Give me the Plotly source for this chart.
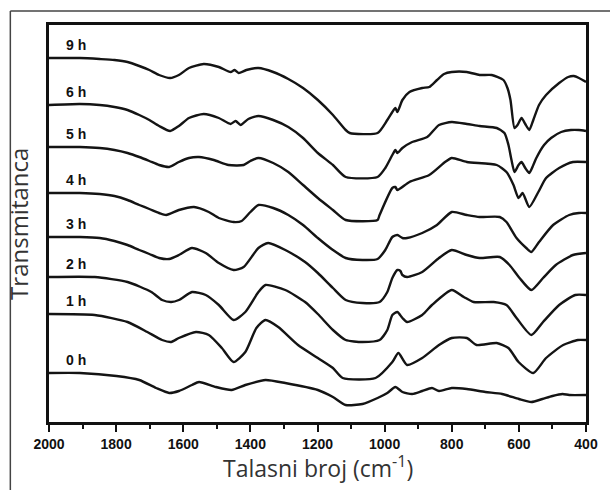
import plotly.graph_objects as go

# Wavenumbers (cm^-1) and relative transmittance (a.u.)
labels = ["9 h", "6 h", "5 h", "4 h", "3 h", "2 h", "1 h", "0 h"]

wn_9h = [2000, 1908, 1849, 1805, 1766, 1731, 1701, 1672, 1639, 1613, 1583, 1539, 1494, 1459, 1447, 1435, 1412, 1376, 1332, 1287, 1243, 1199, 1154, 1116, 1104, 1021, 992, 977, 968, 962, 947, 926, 888, 867, 844, 823, 800, 755, 717, 681, 646, 634, 625, 613, 604, 592, 581, 569, 557, 540, 519, 480, 453, 436, 421, 400]
t_9h = [364, 364, 363, 362, 360, 356, 352, 347, 344, 347, 354, 358, 355, 350, 352, 349, 352, 354, 350, 343, 334, 322, 307, 292, 289, 289, 302, 310, 314, 310, 322, 330, 334, 335, 342, 348, 350, 350, 347, 347, 342, 334, 322, 294, 297, 304, 298, 292, 302, 317, 327, 339, 345, 346, 344, 340]

wn_6h = [2000, 1908, 1849, 1805, 1766, 1731, 1701, 1672, 1639, 1613, 1583, 1539, 1494, 1459, 1444, 1429, 1406, 1376, 1332, 1287, 1243, 1199, 1154, 1116, 1021, 998, 977, 968, 962, 947, 918, 873, 838, 800, 755, 717, 666, 643, 631, 622, 613, 601, 592, 581, 569, 557, 548, 525, 504, 474, 445, 421, 400]
t_6h = [317, 318, 317, 315, 312, 307, 302, 296, 291, 296, 304, 308, 304, 298, 301, 297, 303, 306, 302, 295, 284, 269, 257, 245, 245, 254, 267, 272, 269, 274, 280, 285, 297, 300, 298, 296, 294, 289, 277, 262, 250, 257, 260, 254, 249, 257, 264, 277, 284, 290, 292, 292, 291]

wn_5h = [2000, 1908, 1849, 1805, 1766, 1731, 1701, 1672, 1642, 1613, 1583, 1553, 1509, 1465, 1420, 1400, 1376, 1332, 1287, 1243, 1199, 1154, 1116, 1021, 1015, 977, 968, 962, 926, 867, 820, 800, 755, 666, 637, 616, 601, 589, 569, 542, 519, 480, 439, 400]
t_5h = [275, 275, 274, 272, 269, 265, 261, 257, 255, 260, 264, 265, 262, 257, 257, 261, 264, 259, 250, 237, 224, 212, 202, 202, 207, 234, 235, 232, 240, 247, 260, 264, 260, 257, 250, 237, 224, 229, 215, 230, 244, 254, 260, 260]

wn_4h = [2000, 1908, 1849, 1805, 1766, 1731, 1701, 1672, 1651, 1613, 1568, 1524, 1494, 1450, 1426, 1400, 1376, 1332, 1287, 1243, 1199, 1154, 1116, 1066, 1021, 998, 977, 962, 947, 933, 888, 844, 800, 755, 717, 657, 637, 607, 578, 563, 540, 498, 450, 421, 400]
t_4h = [229, 229, 228, 226, 222, 217, 213, 209, 207, 212, 215, 210, 204, 200, 201, 210, 217, 214, 207, 197, 184, 172, 164, 162, 163, 172, 185, 187, 184, 184, 189, 197, 210, 207, 205, 205, 200, 184, 174, 170, 180, 197, 207, 209, 209]

wn_3h = [2000, 1908, 1849, 1805, 1766, 1731, 1701, 1672, 1642, 1613, 1574, 1533, 1494, 1450, 1420, 1376, 1347, 1296, 1237, 1199, 1154, 1116, 1066, 1015, 992, 977, 962, 953, 947, 933, 888, 838, 800, 755, 717, 657, 628, 598, 563, 528, 490, 439, 400]
t_3h = [185, 185, 184, 181, 177, 172, 168, 164, 163, 167, 174, 169, 159, 152, 155, 174, 179, 172, 160, 149, 134, 122, 119, 120, 130, 144, 152, 151, 147, 145, 150, 164, 172, 167, 164, 165, 157, 144, 132, 144, 157, 167, 169]

wn_2h = [2000, 1864, 1766, 1695, 1663, 1636, 1613, 1574, 1533, 1494, 1450, 1415, 1376, 1355, 1296, 1237, 1199, 1154, 1116, 1066, 1015, 992, 977, 962, 947, 933, 888, 859, 800, 764, 735, 675, 637, 607, 563, 528, 480, 432, 400]
t_2h = [145, 145, 140, 130, 122, 120, 122, 130, 127, 117, 102, 110, 130, 137, 132, 120, 108, 92, 82, 80, 82, 92, 107, 110, 104, 100, 107, 117, 132, 125, 120, 120, 117, 104, 87, 100, 117, 127, 127]

wn_1h = [2000, 1864, 1766, 1707, 1663, 1636, 1613, 1562, 1524, 1485, 1450, 1415, 1382, 1355, 1317, 1258, 1199, 1154, 1125, 1027, 977, 959, 933, 888, 838, 800, 755, 726, 666, 631, 601, 557, 519, 468, 424, 400]
t_1h = [108, 107, 100, 90, 82, 80, 84, 90, 87, 74, 60, 70, 94, 102, 95, 77, 64, 54, 44, 44, 60, 69, 57, 64, 77, 84, 84, 77, 79, 74, 60, 49, 64, 77, 82, 82]

wn_0h = [2000, 1908, 1799, 1731, 1681, 1642, 1613, 1574, 1553, 1503, 1456, 1415, 1355, 1296, 1199, 1154, 1116, 1066, 1021, 992, 968, 947, 918, 888, 859, 838, 800, 755, 700, 650, 600, 563, 530, 500, 470, 450, 400]
t_0h = [49, 49, 46, 42, 34, 29, 31, 37, 40, 35, 32, 37, 42, 39, 32, 25, 17, 18, 24, 29, 35, 30, 28, 31, 34, 31, 34, 33, 30, 28, 23, 20, 23, 26, 28, 27, 27]

x_ticks = [2000, 1800, 1600, 1400, 1200, 1000, 800, 600, 400]

series = [(wn_9h, t_9h), (wn_6h, t_6h), (wn_5h, t_5h), (wn_4h, t_4h),
          (wn_3h, t_3h), (wn_2h, t_2h), (wn_1h, t_1h), (wn_0h, t_0h)]

fig = go.Figure()
for name, (wn, t) in zip(labels, series):
    fig.add_trace(go.Scatter(x=wn, y=t, mode="lines", name=name,
                             line=dict(color="#141414", width=2.4, shape="spline", smoothing=0.6),
                             hoverinfo="skip"))
    fig.add_annotation(x=1920, y=t[0] + 13, text=name, showarrow=False,
                       font=dict(family="Liberation Sans, Arial", size=14, color="#111", weight="bold"),
                       xanchor="center", yanchor="middle")

fig.update_layout(
    width=610, height=490,
    margin=dict(l=49, r=20, t=25, b=68),
    paper_bgcolor="white", plot_bgcolor="white",
    showlegend=False,
)
fig.update_xaxes(
    range=[2000, 400], tickvals=x_ticks, ticktext=[str(v) for v in x_ticks],
    ticks="outside", ticklen=7, tickwidth=2, tickcolor="#111",
    minor=dict(dtick=100, ticks="outside", ticklen=4, tickwidth=2, tickcolor="#111"),
    tickfont=dict(family="Liberation Sans, Arial", size=14, color="#111", weight="bold"),
    showline=True, linewidth=2.5, linecolor="#111", mirror=True,
    showgrid=False, zeroline=False,
)
fig.update_yaxes(
    range=[0, 397], showticklabels=False, ticks="",
    showline=True, linewidth=2.5, linecolor="#111", mirror=True,
    showgrid=False, zeroline=False,
)
# axis titles
fig.add_annotation(xref="paper", yref="paper", x=0.5, y=-0.113,
                   text="Talasni broj (cm<sup>-1</sup>)", showarrow=False,
                   font=dict(family="Open Sans", size=23, color="#333"),
                   xanchor="center", yanchor="middle")
fig.add_annotation(xref="paper", yref="paper", x=-0.057, y=0.5,
                   text="Transmitanca", showarrow=False, textangle=-90,
                   font=dict(family="Open Sans", size=24, color="#333"),
                   xanchor="center", yanchor="middle")
# outer frame lines (left and top)
fig.add_shape(type="line", xref="paper", yref="paper", x0=-0.072, x1=-0.072, y0=-0.2, y1=1.035,
              line=dict(color="#444", width=1.5))
fig.add_shape(type="line", xref="paper", yref="paper", x0=-0.072, x1=1.05, y0=1.035, y1=1.035,
              line=dict(color="#444", width=1.5))

fig.write_html("out.html")
